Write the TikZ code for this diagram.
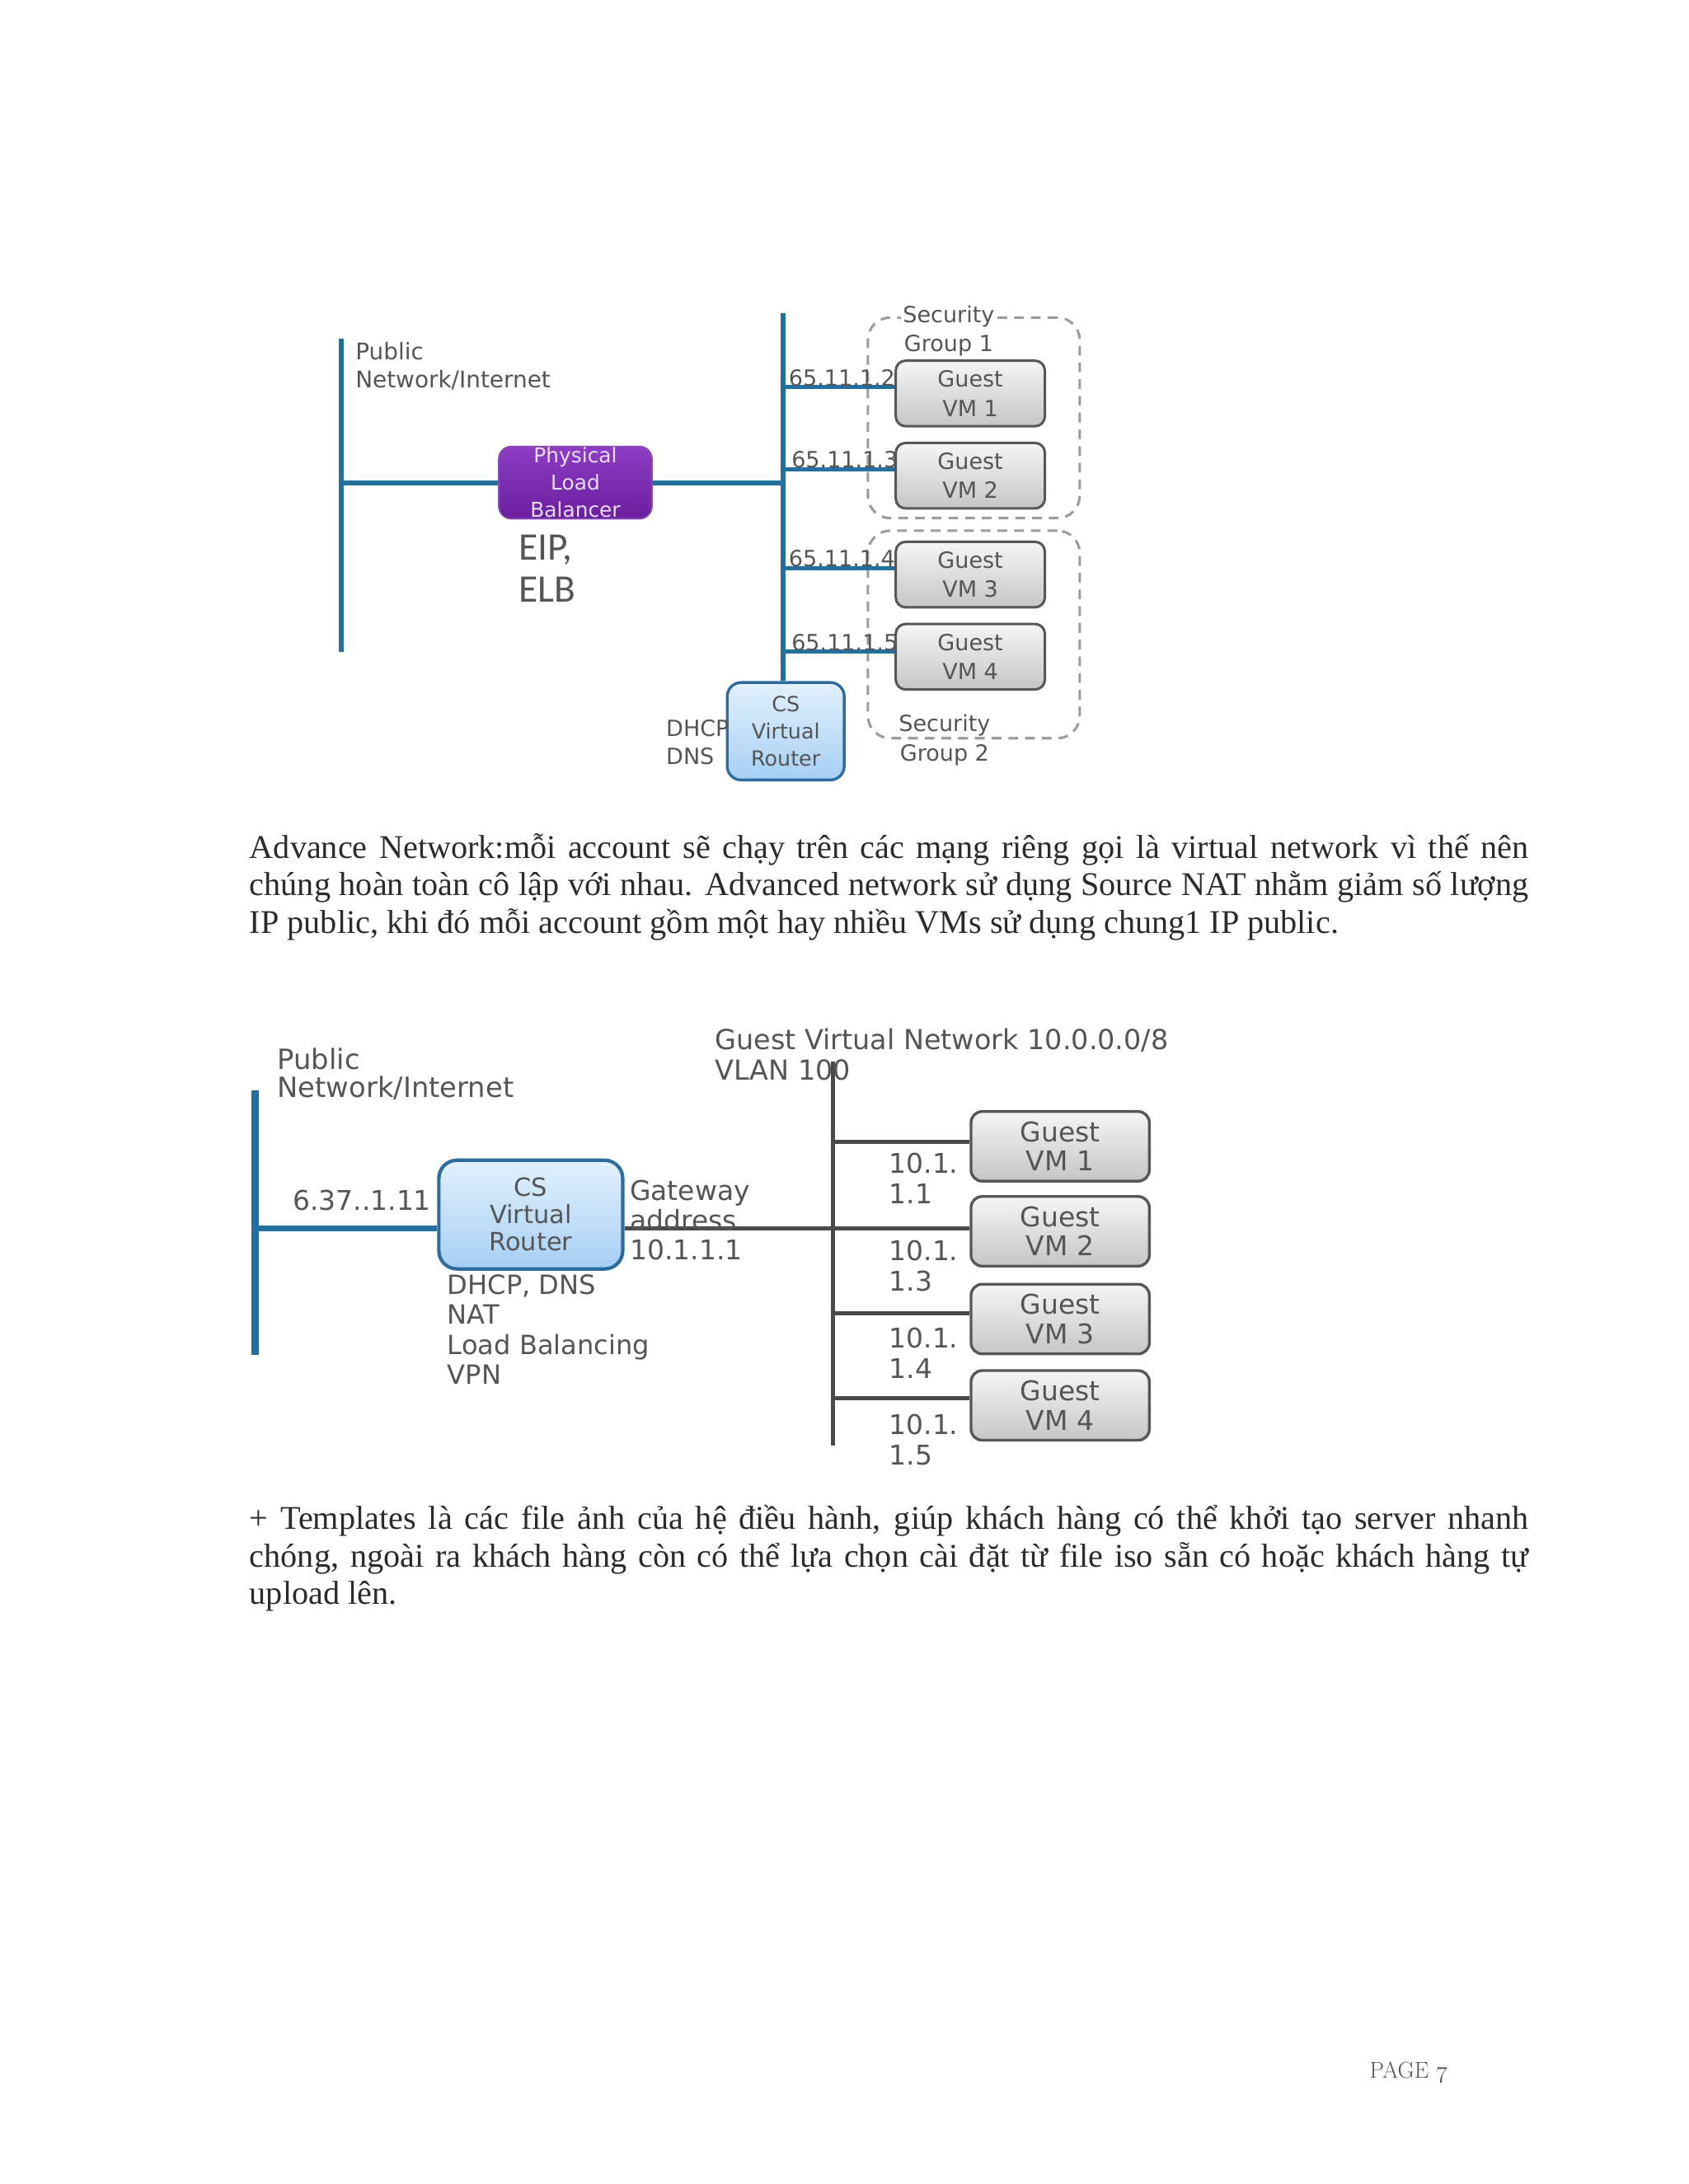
\documentclass[tikz,border=0pt]{standalone}
\usepackage{fontspec}
\newfontfamily\tnr{Liberation Serif}
\newfontfamily\lblfont{DejaVu Sans}
\newfontfamily\eipfont{Carlito}
\definecolor{netblue}{HTML}{22709F}
\definecolor{lblgray}{HTML}{555555}
\definecolor{linegray}{HTML}{4A4A4A}
\definecolor{lbtopc}{HTML}{8C3DC4}
\definecolor{lbbotc}{HTML}{6A1F9E}
\definecolor{lbtext}{HTML}{EADCF5}
\definecolor{rtborder}{HTML}{2F6C9E}
\definecolor{rttopc}{HTML}{E2F1FD}
\definecolor{rtbotc}{HTML}{A6CFF4}
\definecolor{vmborder}{HTML}{575757}
\definecolor{vmtopc}{HTML}{F5F5F5}
\definecolor{vmbotc}{HTML}{C6C6C6}
\definecolor{sggray}{HTML}{9C9C9C}
\definecolor{bodytext}{HTML}{2B2B2B}
\tikzset{
  netline/.style={draw=netblue, line width=3.5pt},
  netthick/.style={draw=netblue, line width=5pt},
  grayline/.style={draw=linegray, line width=3pt},
  lbl/.style={font=\lblfont\fontsize{16}{20}\selectfont, text=lblgray, inner sep=0pt, align=center},
  lblbig/.style={font=\lblfont\fontsize{19.5}{21.5}\selectfont, text=lblgray, inner sep=0pt, align=left},
  guestsmall/.style={draw=vmborder, line width=1.8pt, rounded corners=7pt, top color=vmtopc, bottom color=vmbotc,
    minimum width=107pt, minimum height=47pt, inner sep=0pt, align=center,
    font=\lblfont\fontsize{16}{21}\selectfont, text=lblgray},
  guestbig/.style={draw=vmborder, line width=2pt, rounded corners=8pt, top color=vmtopc, bottom color=vmbotc,
    minimum width=128pt, minimum height=50pt, inner sep=0pt, align=center,
    font=\lblfont\fontsize{19.5}{21}\selectfont, text=lblgray},
  routersmall/.style={draw=rtborder, line width=2pt, rounded corners=10pt, top color=rttopc, bottom color=rtbotc,
    minimum width=84pt, minimum height=70pt, inner sep=0pt, align=center,
    font=\lblfont\fontsize{15}{19.5}\selectfont, text=lblgray},
  routerbig/.style={draw=rtborder, line width=2.5pt, rounded corners=13pt, top color=rttopc, bottom color=rtbotc,
    minimum width=132pt, minimum height=78pt, inner sep=0pt, align=center,
    font=\lblfont\fontsize{18}{19.5}\selectfont, text=lblgray},
  lbbox/.style={rounded corners=9pt, top color=lbtopc, bottom color=lbbotc, draw=lbbotc!80!white, line width=1pt,
    minimum width=110pt, minimum height=52pt, inner sep=0pt},
  lbtxt/.style={font=\lblfont\fontsize{14.7}{19.5}\selectfont, text=lbtext, inner sep=0pt, align=center},
  sgbox/.style={draw=sggray, line width=1.8pt, dash pattern=on 7pt off 5pt, rounded corners=16pt, inner sep=0pt},
  paratext/.style={font=\tnr\fontsize{23.8}{27.2}\selectfont, text=bodytext, inner sep=0pt, anchor=base west},
}
\begin{document}
\begin{tikzpicture}[x=1pt,y=-1pt]
\fill[white] (0,0) rectangle (1211.8,1568);
\useasboundingbox (0,0) rectangle (1211.8,1568);

% ---------------- top diagram ----------------
\node[sgbox, minimum width=152pt, minimum height=144pt] (sg1) at (699,300) {};
\node[sgbox, minimum width=152pt, minimum height=149pt] (sg2) at (699,455.5) {};

\node[lbbox] (lb) at (413,346.5) {};
\node[lbtxt] (lbt) at (lb.center) {Physical\\Load\\Balancer};

\node[routersmall] (rt1) at (564,525) {CS\\Virtual\\Router};

\node[guestsmall] (tvm1) at (696.5,282.5) {Guest\\VM 1};
\node[guestsmall] (tvm2) at (696.5,341.5) {Guest\\VM 2};
\node[guestsmall] (tvm3) at (696.5,412.5) {Guest\\VM 3};
\node[guestsmall] (tvm4) at (696.5,471.5) {Guest\\VM 4};

\coordinate (p1t) at (245,243);
\coordinate (p1b) at (245,468);
\coordinate (p1j) at (245,346.5);
\coordinate (bus1t) at (562,225);
\draw[netline] (p1t) -- (p1b);
\draw[netline] (p1j) -- (lb.west);
\draw[netline] (lb.east) -- (lb.east -| bus1t);
\draw[netline] (bus1t) -- (bus1t |- rt1.north);
\foreach \i/\y in {1/278,2/337,3/408,4/468}{
  \coordinate (tb\i) at (562,\y);
  \draw[netline, line width=3pt] (tb\i) -- (tb\i -| tvm\i.west);
}

\node[lbl, anchor=base west] (ip1) at (566,277) {65.11.1.2};
\node[lbl, anchor=base west] (ip2) at (568,336) {65.11.1.3};
\node[lbl, anchor=base west] (ip3) at (566,407) {65.11.1.4};
\node[lbl, anchor=base west] (ip4) at (568,467) {65.11.1.5};

\node[lbl, fill=white, inner sep=1.5pt] (sg1a) at (681,227) {Security};
\node[lbl] (sg1b) at (681,248) {Group 1};
\node[lbl] (sg2a) at (678,521) {Security};
\node[lbl] (sg2b) at (678,542) {Group 2};

\node[lbl, align=left, anchor=west] (dhcp1) at (478,533) {DHCP\\DNS};

\node[lbl, align=left, anchor=west, font=\lblfont\fontsize{16.5}{20}\selectfont] (pub1) at (255,263) {Public\\Network/Internet};

\node[anchor=west, align=left, inner sep=0pt, text=lblgray, font=\eipfont\fontsize{28}{30}\selectfont] (eip) at (372,408) {EIP,\\ELB};

% ---------------- paragraph 1 ----------------
\node[paratext] (a1) at (179,616) {\makebox[918pt][s]{Advance Network:mỗi account sẽ chạy trên các mạng riêng gọi là virtual network vì thế nên}};
\node[paratext] (a2) at (179,643) {\makebox[918pt][s]{chúng hoàn toàn cô lập với nhau. Advanced network sử dụng Source NAT nhằm giảm số lượng}};
\node[paratext] (a3) at (179,670) {IP public, khi đó mỗi account gồm một hay nhiều VMs sử dụng chung1 IP public.};

% ---------------- bottom diagram ----------------
\node[routerbig] (rt2) at (381,872) {CS\\Virtual\\Router};

\node[guestbig] (bvm1) at (761,823) {Guest\\VM 1};
\node[guestbig] (bvm2) at (761,884) {Guest\\VM 2};
\node[guestbig] (bvm3) at (761,947) {Guest\\VM 3};
\node[guestbig] (bvm4) at (761,1009) {Guest\\VM 4};

\coordinate (p2t) at (183,783);
\coordinate (p2b) at (183,973);
\coordinate (p2j) at (183,882);
\coordinate (bus2t) at (598,762);
\coordinate (bus2b) at (598,1038);
\draw[netthick] (p2t) -- (p2b);
\draw[netline, line width=4pt] (p2j) -- (p2j -| rt2.west);
\draw[grayline] (bus2t) -- (bus2b);
\draw[grayline] (rt2.east |- p2j) -- (p2j -| bvm2.west);
\foreach \i/\y in {1/820,3/943,4/1004}{
  \coordinate (bb\i) at (598,\y);
  \draw[grayline] (bb\i) -- (bb\i -| bvm\i.west);
}

\node[lblbig, anchor=west, font=\lblfont\fontsize{20}{20}\selectfont] (pub2) at (199,771) {Public\\Network/Internet};
\node[lblbig, anchor=west] (pubip) at (210,862) {6.37..1.11};
\node[lblbig, anchor=west] (gw) at (452,876) {Gateway\\address\\10.1.1.1};
\node[lblbig, anchor=west, font=\lblfont\fontsize{19.8}{22}\selectfont] (gvn) at (513,757) {Guest Virtual Network 10.0.0.0/8\\VLAN 100};
\node[lblbig, anchor=north west, font=\lblfont\fontsize{19}{21.5}\selectfont] (svc) at (321,915) {DHCP, DNS\\NAT\\Load Balancing\\VPN};

\node[lblbig, anchor=west, font=\lblfont\fontsize{19.5}{22}\selectfont] (bip1) at (638,846) {10.1.\\1.1};
\node[lblbig, anchor=west, font=\lblfont\fontsize{19.5}{22}\selectfont] (bip2) at (638,909) {10.1.\\1.3};
\node[lblbig, anchor=west, font=\lblfont\fontsize{19.5}{22}\selectfont] (bip3) at (638,971.5) {10.1.\\1.4};
\node[lblbig, anchor=west, font=\lblfont\fontsize{19.5}{22}\selectfont] (bip4) at (638,1033.5) {10.1.\\1.5};

% ---------------- paragraph 2 ----------------
\node[paratext] (b1) at (179,1098) {\makebox[918pt][s]{+ Templates là các file ảnh của hệ điều hành, giúp khách hàng có thể khởi tạo server nhanh}};
\node[paratext] (b2) at (179,1125) {\makebox[918pt][s]{chóng, ngoài ra khách hàng còn có thể lựa chọn cài đặt từ file iso sẵn có hoặc khách hàng tự}};
\node[paratext] (b3) at (179,1152) {upload lên.};

% ---------------- page number ----------------
\node[anchor=base west, inner sep=0pt, text=lblgray, font=\fontsize{16.5}{18}\selectfont] (pg) at (983,1492) {PAGE {\usefont{OML}{cmm}{m}{it}7}};
\end{tikzpicture}
\end{document}
